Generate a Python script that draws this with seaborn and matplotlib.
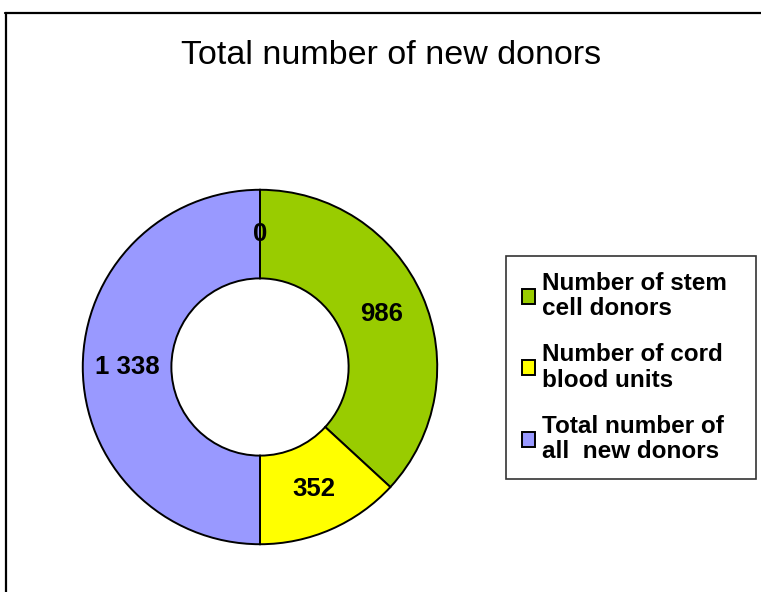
import matplotlib
matplotlib.use("Agg")
import matplotlib.pyplot as plt
from matplotlib.lines import Line2D
from matplotlib.patches import Patch
import seaborn as sns

# Data
categories = ["Number of stem\ncell donors", "Number of cord\nblood units", "Total number of\nall  new donors", ""]
values = [986, 352, 1338, 0]
colors = ["#99CC00", "#FFFF00", "#9999FF", "#FFFFFF"]
title = "Total number of new donors"

sns.set_theme(style="white")
plt.rcParams["font.family"] = ["Liberation Sans", "DejaVu Sans"]
plt.rcParams["text.color"] = "black"

W, H = 761, 592
fig = plt.figure(figsize=(W / 100, H / 100), dpi=100)
fig.patch.set_facecolor("white")

# Pie axes placement
cx, cy, R = 260, 367, 179
ax = fig.add_axes([(cx - R) / W, (H - cy - R) / H, 2 * R / W, 2 * R / H])

label_texts = [f"{v:,}".replace(",", " ") for v in values]
pal = sns.color_palette(colors)
wedges, texts = ax.pie(
    values,
    labels=label_texts,
    colors=pal,
    startangle=90,
    counterclock=False,
    labeldistance=0.75,
    wedgeprops=dict(width=0.5, edgecolor="black", linewidth=1.4),
    textprops=dict(fontsize=18.5, fontweight="bold", color="black"),
)
for t in texts:
    t.set_horizontalalignment("center")
    t.set_verticalalignment("center")
ax.set_xlim(-1.01, 1.01)
ax.set_ylim(-1.01, 1.01)
ax.set_aspect("equal")
ax.axis("off")

# Title
fig.text(391 / W, 1 - 56 / H, title, ha="center", va="center", fontsize=24.5, color="black")

# Legend
handles = [Patch(facecolor=c, edgecolor="black", linewidth=1.4) for c in colors[:3]]
leg = fig.legend(
    handles, categories[:3],
    loc="upper left",
    bbox_to_anchor=(506 / W, 1 - 480 / H, 250 / W, 224 / H),
    mode="expand",
    frameon=True, fancybox=False,
    prop=dict(family="Liberation Sans", weight="bold", size=17.5),
    labelcolor="black",
    handlelength=0.55, handleheight=0.55, handletextpad=0.3,
    labelspacing=0.95, borderpad=0.65, borderaxespad=0.0,
)
for t in leg.get_texts():
    t.set_linespacing(1.13)
leg.get_frame().set_edgecolor("black")
leg.get_frame().set_linewidth(1.2)

# Chart border (top and left lines)
fig.add_artist(Line2D([5 / W, 1.0], [1 - 13 / H, 1 - 13 / H], color="black", linewidth=1.6, transform=fig.transFigure))
fig.add_artist(Line2D([6 / W, 6 / W], [0.0, 1 - 13 / H], color="black", linewidth=1.6, transform=fig.transFigure))

fig.savefig("out.png", dpi=100, facecolor="white")
